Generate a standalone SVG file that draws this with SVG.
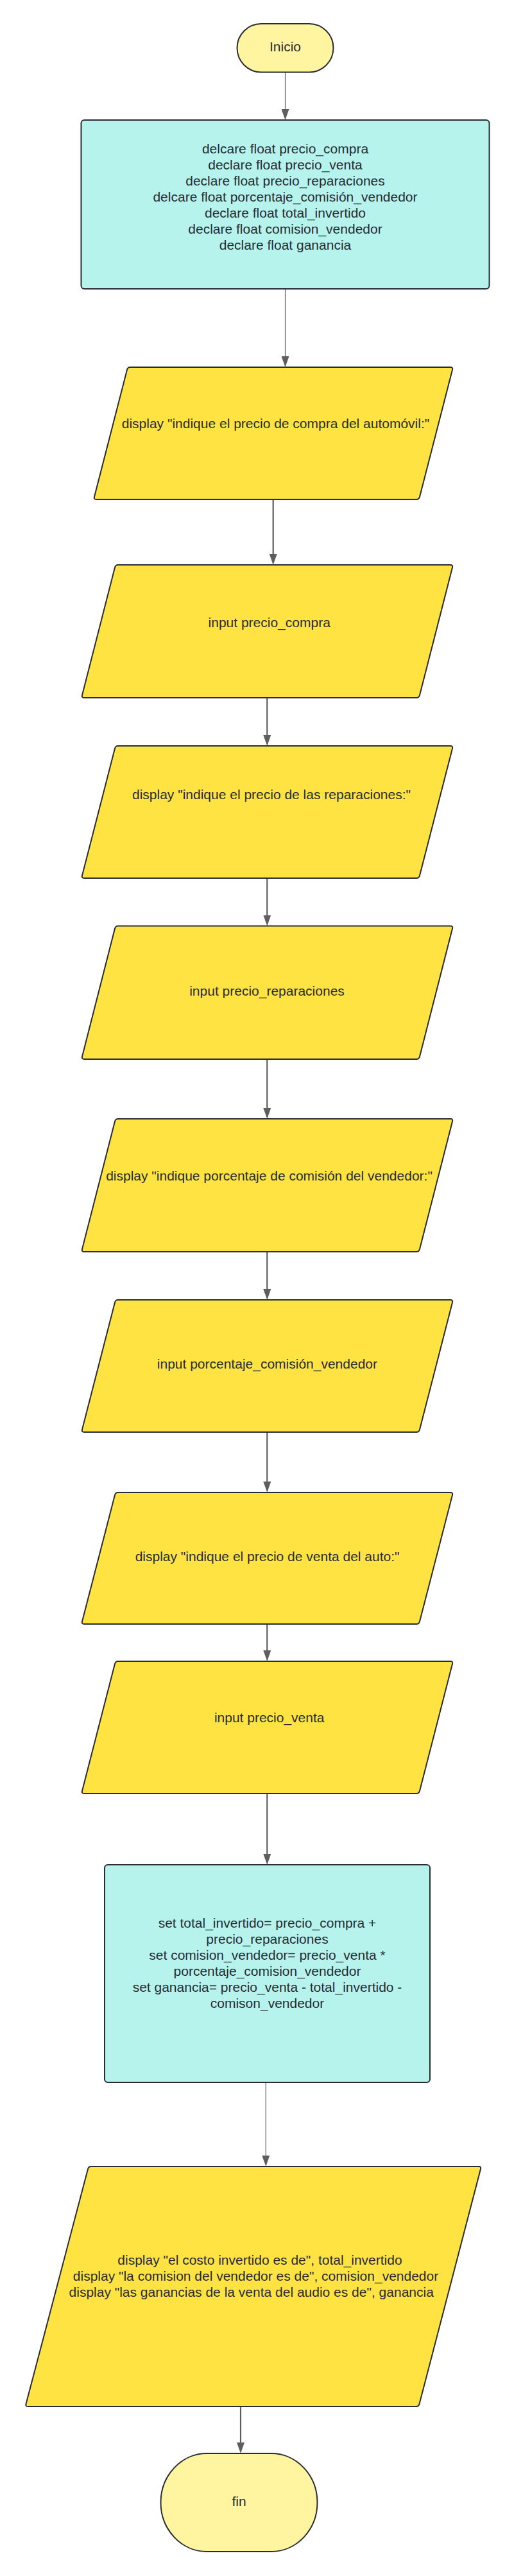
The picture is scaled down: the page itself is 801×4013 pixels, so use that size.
<svg xmlns="http://www.w3.org/2000/svg" width="801" height="4013" viewBox="0 0 801 4013">
<style>
.term{fill:#FFF5A0;stroke:#282C33;stroke-width:2}
.proc{fill:#B5F3EC;stroke:#282C33;stroke-width:2}
.io{fill:#FFE342;stroke:#282C33;stroke-width:2}
.t{font-family:"Liberation Sans",Arial,sans-serif;font-size:21px;fill:#282C33;text-anchor:middle}
.c{fill:none;stroke:#5E5E5E}
.thin{stroke-width:1.2}
.thick{stroke-width:2.2}
</style>
<defs>
<marker id="ah" markerUnits="userSpaceOnUse" markerWidth="17" markerHeight="12" viewBox="0 0 17 12" refX="14" refY="6" orient="auto">
<path d="M0,0 L17,6 L0,12 Z" fill="#5E5E5E"/>
</marker>
</defs>
<rect width="801" height="4013" fill="#FFFFFF"/>

<g id="connectors">
<path class="c thin" d="M444.5,113 V184" marker-end="url(#ah)"/>
<path class="c thin" d="M444.5,450 V569" marker-end="url(#ah)"/>
<path class="c thick" d="M425.7,778 V877" marker-end="url(#ah)"/>
<path class="c thick" d="M416.3,1087 V1159" marker-end="url(#ah)"/>
<path class="c thick" d="M416.3,1368 V1439.5" marker-end="url(#ah)"/>
<path class="c thick" d="M416.3,1650 V1740" marker-end="url(#ah)"/>
<path class="c thick" d="M416.3,1950 V2022" marker-end="url(#ah)"/>
<path class="c thick" d="M416.3,2231 V2322" marker-end="url(#ah)"/>
<path class="c thick" d="M416.3,2530 V2585" marker-end="url(#ah)"/>
<path class="c thick" d="M416.3,2794 V2902" marker-end="url(#ah)"/>
<path class="c thin" d="M414.3,3244 V3372" marker-end="url(#ah)"/>
<path class="c thick" d="M375,3749 V3819" marker-end="url(#ah)"/>
</g>

<g id="inicio">
<rect class="term" x="369.5" y="37" width="150" height="75.5" rx="37.75" ry="37.75"/>
<text class="t" x="444.5" y="79.5">Inicio</text>
</g>

<g id="declaraciones">
<rect class="proc" x="126.5" y="187" width="636" height="263" rx="5"/>
<text class="t" x="444.5" y="239">delcare float precio_compra</text>
<text class="t" x="444.5" y="264">declare float precio_venta</text>
<text class="t" x="444.5" y="289">declare float precio_reparaciones</text>
<text class="t" x="444.5" y="314">delcare float porcentaje_comisión_vendedor</text>
<text class="t" x="444.5" y="339">declare float total_invertido</text>
<text class="t" x="444.5" y="364">declare float comision_vendedor</text>
<text class="t" x="444.5" y="389">declare float ganancia</text>
</g>

<g id="display_compra">
<path class="io" d="M203,572 H702 Q706,572 705,576 L654,774 Q653,778 649,778 H150 Q146,778 147,774 L198,576 Q199,572 203,572 Z"/>
<text class="t" x="429.5" y="667">display "indique el precio de compra del automóvil:"</text>
</g>

<g id="input_compra">
<path class="io" d="M184,880 H702 Q706,880 705,884 L654,1083 Q653,1087 649,1087 H131 Q127,1087 128,1083 L179,884 Q180,880 184,880 Z"/>
<text class="t" x="419.7" y="976.5">input precio_compra</text>
</g>

<g id="display_reparaciones">
<path class="io" d="M184,1162 H702 Q706,1162 705,1166 L654,1364 Q653,1368 649,1368 H131 Q127,1368 128,1364 L179,1166 Q180,1162 184,1162 Z"/>
<text class="t" x="423" y="1245">display "indique el precio de las reparaciones:"</text>
</g>

<g id="input_reparaciones">
<path class="io" d="M184,1442.5 H702 Q706,1442.5 705,1446.5 L654,1646 Q653,1650 649,1650 H131 Q127,1650 128,1646 L179,1446.5 Q180,1442.5 184,1442.5 Z"/>
<text class="t" x="416" y="1550.5">input precio_reparaciones</text>
</g>

<g id="display_porcentaje">
<path class="io" d="M184,1743 H702 Q706,1743 705,1747 L654,1946 Q653,1950 649,1950 H131 Q127,1950 128,1946 L179,1747 Q180,1743 184,1743 Z"/>
<text class="t" x="419.5" y="1838.5">display "indique porcentaje de comisión del vendedor:"</text>
</g>

<g id="input_porcentaje">
<path class="io" d="M184,2025 H702 Q706,2025 705,2029 L654,2227 Q653,2231 649,2231 H131 Q127,2231 128,2227 L179,2029 Q180,2025 184,2025 Z"/>
<text class="t" x="416.4" y="2132">input porcentaje_comisión_vendedor</text>
</g>

<g id="display_venta">
<path class="io" d="M184,2325 H702 Q706,2325 705,2329 L654,2526 Q653,2530 649,2530 H131 Q127,2530 128,2526 L179,2329 Q180,2325 184,2325 Z"/>
<text class="t" x="416.6" y="2432">display "indique el precio de venta del auto:"</text>
</g>

<g id="input_venta">
<path class="io" d="M184,2588 H702 Q706,2588 705,2592 L654,2790 Q653,2794 649,2794 H131 Q127,2794 128,2790 L179,2592 Q180,2588 184,2588 Z"/>
<text class="t" x="419.7" y="2682.5">input precio_venta</text>
</g>

<g id="calculos">
<rect class="proc" x="163" y="2905" width="507" height="339" rx="5"/>
<text class="t" x="416.5" y="3003">set total_invertido= precio_compra +</text>
<text class="t" x="416.5" y="3028">precio_reparaciones</text>
<text class="t" x="416.5" y="3053">set comision_vendedor= precio_venta *</text>
<text class="t" x="416.5" y="3078">porcentaje_comision_vendedor</text>
<text class="t" x="416.5" y="3103">set ganancia= precio_venta - total_invertido -</text>
<text class="t" x="416.5" y="3128">comison_vendedor</text>
</g>

<g id="display_resultados">
<path class="io" d="M142,3375 H746 Q750,3375 749,3379 L653.5,3745 Q652.5,3749 648.5,3749 H43.5 Q39.5,3749 40.5,3745 L137,3379 Q138,3375 142,3375 Z"/>
<text class="t" x="405" y="3527.5">display "el costo invertido es de", total_invertido</text>
<text class="t" x="398.5" y="3552.5">display "la comision del vendedor es de", comision_vendedor</text>
<text class="t" x="391.7" y="3577.5">display "las ganancias de la venta del audio es de", ganancia </text>
</g>

<g id="fin">
<rect class="term" x="250.5" y="3822" width="244" height="153" rx="72" ry="76.5"/>
<text class="t" x="372.5" y="3904">fin</text>
</g>
</svg>
